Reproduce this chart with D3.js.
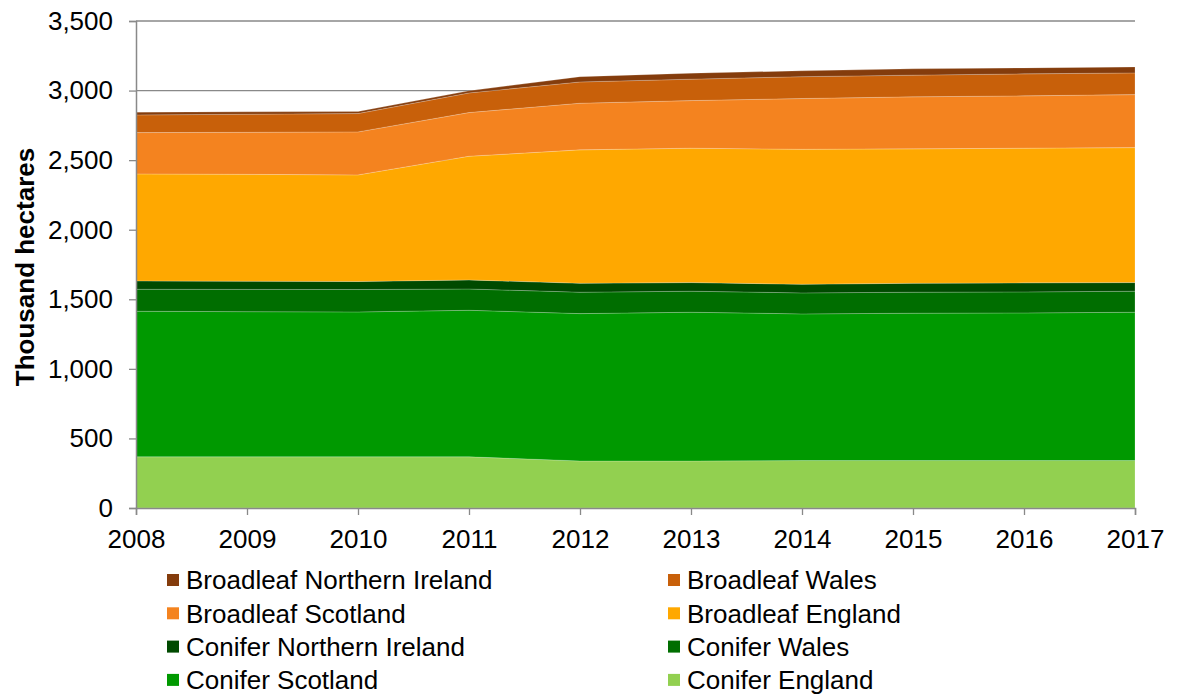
<!DOCTYPE html>
<html>
<head>
<meta charset="utf-8">
<script src="https://cdn.jsdelivr.net/npm/d3@7"></script>
<style>
  html, body { margin: 0; padding: 0; background: #fff; }
  svg { display: block; font-family: "Liberation Sans", Arial, sans-serif; }
</style>
</head>
<body>
<svg id="chart" width="1177" height="695"></svg>
<script>
// ---- Data (thousand hectares) ----
const years = [2008, 2009, 2010, 2011, 2012, 2013, 2014, 2015, 2016, 2017];
const coniferEngland   = [368, 368, 368, 368, 338, 338, 341, 341, 341, 341];
const coniferScotland  = [1046, 1043, 1041, 1053, 1059, 1069, 1054, 1059, 1061, 1066];
const coniferWales     = [158, 160, 161, 153, 154, 151, 151, 151, 151, 151];
const coniferNI        = [60, 59, 58, 65, 64, 62, 62, 64, 65, 62];
const broadleafEngland = [769, 768, 766, 889, 959, 966, 970, 966, 968, 970];
const broadleafScotland= [297, 302, 309, 314, 335, 342, 365, 374, 376, 381];
const broadleafWales   = [127, 130, 132, 141, 153, 154, 157, 156, 158, 156];
const broadleafNI      = [20, 17, 14, 15, 38, 43, 42, 45, 43, 43];
const yTicks = [0, 500, 1000, 1500, 2000, 2500, 3000, 3500];

// stack order bottom -> top
const seriesNames = ["Conifer England", "Conifer Scotland", "Conifer Wales", "Conifer Northern Ireland",
  "Broadleaf England", "Broadleaf Scotland", "Broadleaf Wales", "Broadleaf Northern Ireland"];
const seriesValues = [coniferEngland, coniferScotland, coniferWales, coniferNI,
  broadleafEngland, broadleafScotland, broadleafWales, broadleafNI];
const seriesColors = ["#92D050", "#009900", "#006E00", "#004A00",
  "#FFA800", "#F4831F", "#C8600A", "#843C0C"];
// legend layout (rows, two columns)
const legendOrder = ["Broadleaf Northern Ireland", "Broadleaf Wales", "Broadleaf Scotland", "Broadleaf England",
  "Conifer Northern Ireland", "Conifer Wales", "Conifer Scotland", "Conifer England"];

const rows = years.map((y, i) => {
  const o = { year: y };
  seriesNames.forEach((n, k) => o[n] = seriesValues[k][i]);
  return o;
});

const svg = d3.select("#chart");
const L = 136, R = 1135, T = 21, B = 508;
const FS = 26;
const x = d3.scaleLinear().domain([2008, 2017]).range([L, R]);
const y = d3.scaleLinear().domain([0, 3500]).range([B, T]);
const gray = "#898989";

// gridlines
svg.append("g").selectAll("line").data(yTicks.filter(d => d > 0)).join("line")
  .attr("x1", L).attr("x2", R).attr("y1", d => y(d)).attr("y2", d => y(d))
  .attr("stroke", gray).attr("stroke-width", 1.3);

const stack = d3.stack().keys(seriesNames);
const layers = stack(rows);
const area = d3.area().x(d => x(d.data.year)).y0(d => y(d[0])).y1(d => y(d[1]));
svg.append("g").selectAll("path").data(layers).join("path")
  .attr("d", area)
  .attr("fill", (d, i) => seriesColors[i])
  .attr("stroke", "rgba(255,255,255,0.25)").attr("stroke-width", 0.8);

// axes
const yAxis = d3.axisLeft(y).tickValues(yTicks).tickSize(7).tickPadding(16).tickFormat(d3.format(","));
const gy = svg.append("g").attr("transform", `translate(${L},0)`).call(yAxis);
gy.select(".domain").attr("stroke", gray).attr("stroke-width", 1.5);
gy.selectAll(".tick line").attr("stroke", gray).attr("stroke-width", 1.3);
gy.selectAll("text").attr("font-size", FS).attr("fill", "#000").attr("font-family", "Liberation Sans, Arial, sans-serif");

const xAxis = d3.axisBottom(x).tickValues(years).tickSize(7).tickPadding(15).tickFormat(d3.format("d"));
const gx = svg.append("g").attr("transform", `translate(0,${B})`).call(xAxis);
gx.select(".domain").attr("stroke", gray).attr("stroke-width", 1.5);
gx.selectAll(".tick line").attr("stroke", gray).attr("stroke-width", 1.3);
gx.selectAll("text").attr("font-size", FS).attr("fill", "#000").attr("font-family", "Liberation Sans, Arial, sans-serif");

// y title
svg.append("text")
  .attr("transform", `translate(34,267) rotate(-90)`)
  .attr("text-anchor", "middle")
  .attr("font-size", FS).attr("font-weight", "bold").attr("fill", "#000")
  .text("Thousand hectares");

// legend
const lg = svg.append("g");
legendOrder.forEach((name, i) => {
  const col = i % 2, row = Math.floor(i / 2);
  const lx = col === 0 ? 167 : 668;
  const ly = 580 + row * 33.3;
  const k = seriesNames.indexOf(name);
  lg.append("rect").attr("x", lx).attr("y", ly - 6).attr("width", 12).attr("height", 12)
    .attr("fill", seriesColors[k]);
  lg.append("text").attr("x", lx + 19).attr("y", ly).attr("dy", "0.36em")
    .attr("font-size", FS).attr("fill", "#000").text(name);
});
</script>
</body>
</html>
